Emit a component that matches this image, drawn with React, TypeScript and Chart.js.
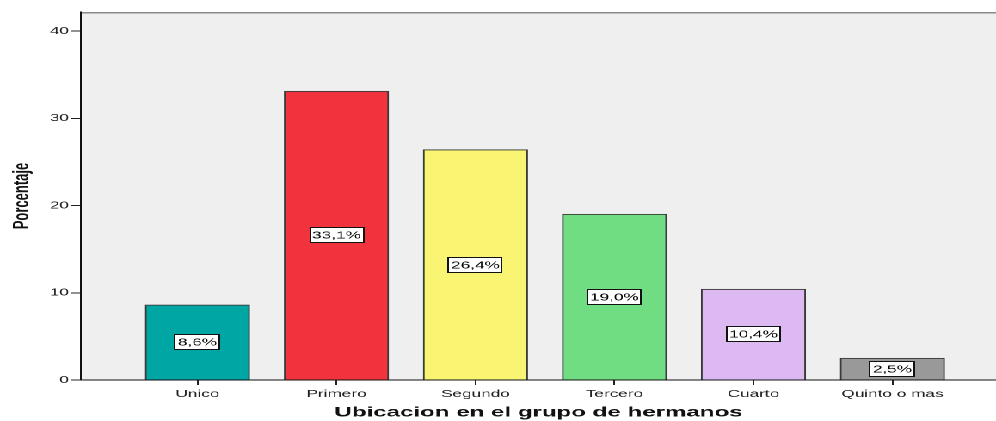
import React, { useEffect, useRef } from 'react';
import { Chart, registerables } from 'chart.js';

Chart.register(...registerables);

const CATEGORIES = ['Unico', 'Primero', 'Segundo', 'Tercero', 'Cuarto', 'Quinto o mas'];
const PERCENTAGES = [8.6, 33.1, 26.4, 19.0, 10.4, 2.5];
const BAR_COLORS = ['#00A6A3', '#F0333C', '#F9F472', '#70DD82', '#DDB9F1', '#999999'];
const Y_TITLE = 'Porcentaje';
const X_TITLE = 'Ubicacion en el grupo de hermanos';

const W = 579;
const H = 421;
const SX = 996 / W;
const FONT = '"Liberation Sans", Arial, sans-serif';

const plotBg = {
  id: 'plotBg',
  beforeDraw(chart: any) {
    const { ctx, chartArea } = chart;
    const { left, top, right, bottom } = chartArea;
    ctx.save();
    ctx.fillStyle = '#EFEFEF';
    ctx.fillRect(left, top, right - left, bottom - top);
    ctx.strokeStyle = '#8a8a8a';
    ctx.lineWidth = 1.5;
    ctx.beginPath();
    ctx.moveTo(left, top + 0.75);
    ctx.lineTo(right, top + 0.75);
    ctx.stroke();
    ctx.restore();
  },
};

const barLabels = {
  id: 'barLabels',
  afterDatasetsDraw(chart: any) {
    const { ctx } = chart;
    const meta = chart.getDatasetMeta(0);
    ctx.save();
    ctx.font = `10px ${FONT}`;
    meta.data.forEach((bar: any, i: number) => {
      const { x, y, base } = bar.getProps(['x', 'y', 'base'], true);
      const cy = (y + base) / 2;
      const text = PERCENTAGES[i].toFixed(1).replace('.', ',') + '%';
      const tw = ctx.measureText(text).width;
      const bw = Math.round(tw + 4);
      const bh = 16;
      const bx = Math.round(x - bw / 2);
      const by = Math.round(cy - bh / 2);
      ctx.fillStyle = '#ffffff';
      ctx.fillRect(bx, by, bw, bh);
      ctx.strokeStyle = '#111';
      ctx.lineWidth = 1;
      ctx.strokeRect(bx + 0.5, by + 0.5, bw - 1, bh - 1);
      ctx.fillStyle = '#000';
      ctx.textAlign = 'center';
      ctx.textBaseline = 'middle';
      ctx.fillText(text, x, by + bh / 2 + 0.5);
    });
    ctx.restore();
  },
};

export default function App() {
  const ref = useRef<HTMLCanvasElement | null>(null);

  useEffect(() => {
    const canvas = ref.current;
    if (!canvas) return;
    const chart = new Chart(canvas, {
      type: 'bar',
      data: {
        datasets: [
          {
            data: PERCENTAGES.map((v, i) => ({ x: i, y: v })),
            backgroundColor: BAR_COLORS,
            borderColor: '#3a3a3a',
            borderWidth: 1,
            barThickness: 104 / SX,
          },
        ],
      },
      options: {
        animation: false,
        responsive: false,
        devicePixelRatio: 2,
        layout: { padding: { top: 12, right: 0, bottom: 0, left: 0 } },
        plugins: {
          legend: { display: false },
          tooltip: { enabled: false },
        },
        scales: {
          x: {
            type: 'linear',
            min: -0.838,
            max: 5.745,
            offset: false,
            afterFit(scale: any) {
              scale.height = H - 380;
            },
            afterBuildTicks(scale: any) {
              scale.ticks = CATEGORIES.map((_, i) => ({ value: i }));
            },
            ticks: {
              autoSkip: false,
              maxRotation: 0,
              minRotation: 0,
              padding: 3,
              color: '#222',
              font: { family: FONT, size: 10 },
              callback: (value: any) => CATEGORIES[Math.round(Number(value))] ?? '',
            },
            grid: {
              offset: false,
              drawOnChartArea: false,
              drawTicks: true,
              tickLength: 5,
              color: '#222',
            },
            border: { display: true, color: '#111', width: 1 },
            title: {
              display: true,
              text: X_TITLE,
              color: '#111',
              font: { family: FONT, size: 14, weight: 'bold' },
              padding: { top: 0, bottom: 0 },
            },
          },
          y: {
            min: 0,
            max: 42.18,
            afterFit(scale: any) {
              scale.width = 81 / SX;
            },
            ticks: {
              stepSize: 10,
              includeBounds: false,
              padding: 1,
              color: '#222',
              font: { family: FONT, size: 10 },
            },
            grid: {
              drawOnChartArea: false,
              drawTicks: true,
              tickLength: 6,
              color: '#222',
            },
            border: { display: true, color: '#111', width: 1 },
            title: {
              display: true,
              text: Y_TITLE,
              color: '#111',
              font: { family: FONT, size: 13, weight: 'bold' },
              padding: { top: 5, bottom: 0 },
            },
          },
        },
      },
      plugins: [plotBg, barLabels],
    } as any);
    return () => chart.destroy();
  }, []);

  return (
    <div
      style={{
        position: 'absolute',
        left: 0,
        top: 0,
        width: W,
        height: H,
        transform: `scale(${SX}, 1)`,
        transformOrigin: '0 0',
        background: '#fff',
      }}
    >
      <canvas ref={ref} width={W} height={H} style={{ width: W, height: H, display: 'block' }} />
    </div>
  );
}
